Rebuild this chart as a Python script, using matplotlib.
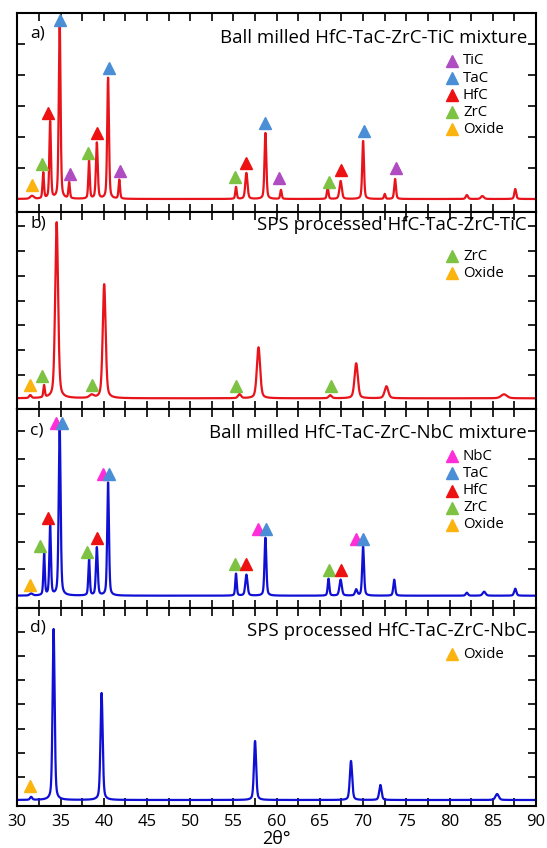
import numpy as np
import matplotlib.pyplot as plt

plt.rcParams['font.family'] = ['Open Sans', 'DejaVu Sans']

# phase colours
COLORS = {"TiC": "#b04cc2", "TaC": "#4a8fd6", "HfC": "#ee1111",
          "ZrC": "#7dc242", "Oxide": "#fbb40f", "NbC": "#ff2ed8"}

# ---- panel a) ball milled HfC-TaC-ZrC-TiC (2theta, height, fwhm)
a_pos = [31.7, 33.0, 33.8, 34.9, 36.0, 38.3, 39.2, 40.5, 41.8, 55.3, 56.5,
         58.7, 60.5, 65.9, 67.4, 70.0, 72.5, 73.7, 82.0, 83.8, 87.6]
a_height = [3, 26, 77, 180, 16, 38, 56, 121, 19, 12, 26,
            66, 9, 11, 18, 58, 5, 20, 4, 3, 10]
a_fwhm = [0.5, 0.2, 0.22, 0.24, 0.2, 0.2, 0.25, 0.24, 0.2, 0.2, 0.3,
          0.25, 0.2, 0.22, 0.32, 0.24, 0.2, 0.24, 0.3, 0.4, 0.25]
a_mark_phase = ["Oxide", "ZrC", "HfC", "TaC", "TiC", "ZrC", "HfC", "TaC", "TiC",
                "ZrC", "HfC", "TaC", "TiC", "ZrC", "HfC", "TaC", "TiC"]
a_mark_pos = [31.7, 32.8, 33.6, 34.9, 36.1, 38.2, 39.2, 40.6, 41.9,
              55.2, 56.4, 58.7, 60.3, 66.0, 67.4, 70.1, 73.8]
a_mark_h = [14, 35, 86, 179, 25, 46, 66, 131, 28,
            22, 36, 76, 21, 17, 29, 68, 31]

# ---- panel b) SPS HfC-TaC-ZrC-TiC
b_pos = [31.5, 33.1, 34.55, 38.6, 40.05, 55.7, 57.9, 66.2, 69.2, 72.7, 86.3]
b_height = [3, 12, 176, 3, 114, 4, 51, 3, 35, 12, 4]
b_fwhm = [0.3, 0.2, 0.4, 0.6, 0.4, 0.4, 0.45, 0.4, 0.45, 0.5, 0.8]
b_mark_phase = ["Oxide", "ZrC", "ZrC", "ZrC", "ZrC"]
b_mark_pos = [31.5, 32.9, 38.6, 55.3, 66.3]
b_mark_h = [13, 22, 13, 12, 12]

# ---- panel c) ball milled HfC-TaC-ZrC-NbC
c_pos = [31.6, 33.1, 33.8, 34.9, 38.3, 39.2, 40.5, 55.3, 56.5, 58.7,
         66.0, 67.4, 69.2, 70.0, 73.6, 82.0, 84.0, 87.6]
c_height = [2, 42, 69, 170, 37, 48, 113, 22, 21, 58,
            17, 16, 6, 49, 16, 3, 4, 7]
c_fwhm = [0.4, 0.2, 0.22, 0.26, 0.2, 0.25, 0.24, 0.2, 0.3, 0.25,
          0.22, 0.32, 0.3, 0.25, 0.25, 0.3, 0.4, 0.3]
c_mark_phase = ["Oxide", "ZrC", "HfC", "NbC", "TaC", "ZrC", "HfC", "NbC", "TaC",
                "ZrC", "HfC", "NbC", "TaC", "ZrC", "HfC", "NbC", "TaC"]
c_mark_pos = [31.5, 32.6, 33.6, 34.5, 35.2, 38.1, 39.2, 39.9, 40.6,
              55.2, 56.4, 57.9, 58.8, 66.0, 67.4, 69.2, 70.0]
c_mark_h = [11, 50, 78, 173, 173, 44, 58, 122, 122,
            32, 32, 67, 67, 26, 26, 57, 57]

# ---- panel d) SPS HfC-TaC-ZrC-NbC
d_pos = [31.6, 34.2, 39.75, 57.5, 68.6, 72.0, 85.5]
d_height = [3, 171, 107, 59, 39, 15, 6]
d_fwhm = [0.3, 0.28, 0.3, 0.3, 0.32, 0.32, 0.45]
d_mark_phase = ["Oxide"]
d_mark_pos = [31.5]
d_mark_h = [14]

titles = ["Ball milled HfC-TaC-ZrC-TiC mixture", "SPS processed HfC-TaC-ZrC-TiC",
          "Ball milled HfC-TaC-ZrC-NbC mixture", "SPS processed HfC-TaC-ZrC-NbC"]
letters = ["a)", "b)", "c)", "d)"]
legends = [["TiC", "TaC", "HfC", "ZrC", "Oxide"], ["ZrC", "Oxide"],
           ["NbC", "TaC", "HfC", "ZrC", "Oxide"], ["Oxide"]]

panels = [
    (a_pos, a_height, a_fwhm, a_mark_phase, a_mark_pos, a_mark_h),
    (b_pos, b_height, b_fwhm, b_mark_phase, b_mark_pos, b_mark_h),
    (c_pos, c_height, c_fwhm, c_mark_phase, c_mark_pos, c_mark_h),
    (d_pos, d_height, d_fwhm, d_mark_phase, d_mark_pos, d_mark_h),
]
line_colors = ["#e8141b", "#e8141b", "#1010d4", "#1010d4"]

# layout, in pixels of the 547x848 figure
W, H = 547, 848
left, right = 17.3, 536
edges = [(13.3, 212), (212, 409), (409, 608.3), (608.3, 805.7)]
baselines = [199, 398.3, 595.7, 800]
first_tick = [167.7, 375, 569.3, 776.7]    # lowest y tick, px
tick_step = [30.8, 24.8, 27.6, 24.1]
title_y = [38, 225, 433, 631]
letter_y = [34, 224, 431, 627]
legend_y0 = [61, 256, 456.3, 654]
legend_dy = 17.1

two_theta = np.linspace(30, 90, 6001)


def pattern(pos, height, fwhm):
    y = np.zeros_like(two_theta)
    for p, h, w in zip(pos, height, fwhm):
        g = np.exp(-4 * np.log(2) * ((two_theta - p) / w) ** 2)
        l = 1 / (1 + 4 * ((two_theta - p) / w) ** 2)
        y += h * (0.6 * g + 0.4 * l)
    return y


fig = plt.figure(figsize=(W / 100, H / 100), dpi=100)

for i, (pos, height, fwhm, mph, mpos, mh) in enumerate(panels):
    top, bot = edges[i]
    hpx = bot - top
    ax = fig.add_axes([left / W, 1 - bot / H, (right - left) / W, hpx / H])
    ax.plot(two_theta, pattern(pos, height, fwhm), color=line_colors[i], lw=1.6)
    for ph, p, h in zip(mph, mpos, mh):
        ax.plot(p, h, marker="^", ms=8.5, color=COLORS[ph], ls="none", clip_on=False)

    ax.set_xlim(30, 90)
    ax.set_ylim(-(bot - baselines[i]), baselines[i] - top)
    ax.set_xticks(np.arange(30, 90.1, 2.5))
    yt = np.arange(baselines[i] - first_tick[i], baselines[i] - top - 3, tick_step[i])
    ax.set_yticks(yt)
    ax.set_yticklabels([])
    ax.tick_params(direction="in", length=6, width=1.2, top=True, right=True,
                   labelbottom=(i == 3), labelsize=12, pad=6)
    if i == 3:
        ax.set_xticklabels([str(int(v)) if v % 5 == 0 else "" for v in np.arange(30, 90.1, 2.5)])
    for s in ax.spines.values():
        s.set_linewidth(1.5)

    def ax_frac(xp, yp):
        return (xp - left) / (right - left), (bot - yp) / hpx

    tx, ty = ax_frac(527, title_y[i])
    ax.text(tx, ty, titles[i], transform=ax.transAxes, ha="right", va="center",
            fontsize=13.4)
    lx, ly = ax_frac(30, letter_y[i])
    ax.text(lx, ly, letters[i], transform=ax.transAxes, ha="left", va="center",
            fontsize=12.5)
    # legend: triangle + phase name, one row each
    for j, name in enumerate(legends[i]):
        mx, my = ax_frac(452, legend_y0[i] + j * legend_dy)
        ax.plot(mx, my, marker="^", ms=8.5, color=COLORS[name], ls="none",
                transform=ax.transAxes)
        txx, _ = ax_frac(463, 0)
        ax.text(txx, my, name, transform=ax.transAxes, ha="left", va="center",
                fontsize=10.8)

# x axis title sits at the very bottom, under the "60" label
fig.text((left + right) / 2 / W, 0.0, "2θ°", ha="center", va="bottom", fontsize=13)

fig.savefig("out.png", dpi=100)
